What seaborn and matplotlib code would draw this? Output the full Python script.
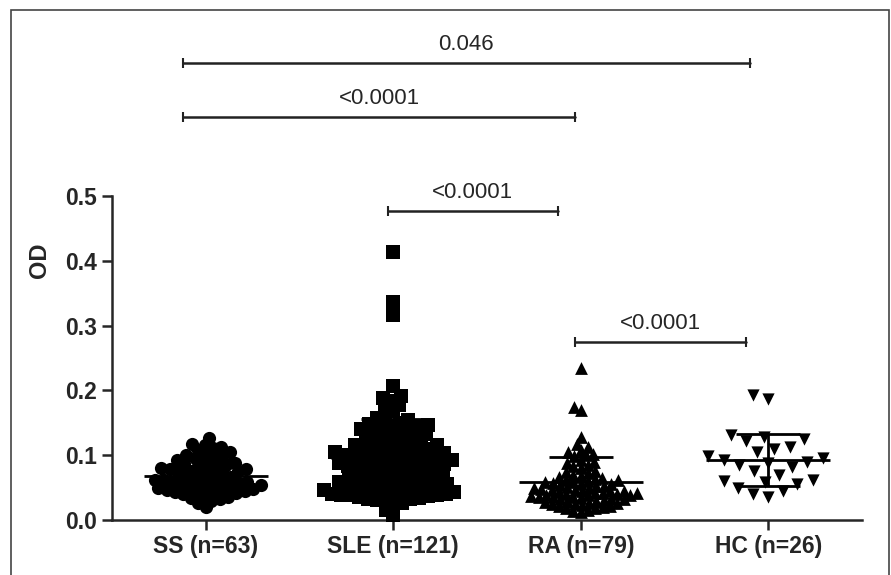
import numpy as np
import pandas as pd
import matplotlib
matplotlib.use("Agg")
import matplotlib.pyplot as plt
import seaborn as sns
from matplotlib.patches import Rectangle

# groups and OD values
groups = ["SS (n=63)", "SLE (n=121)", "RA (n=79)", "HC (n=26)"]
markers = ["o", "s", "^", "v"]

ss_od = [0.127, 0.118, 0.116, 0.113, 0.111, 0.108, 0.105, 0.103, 0.100, 0.098, 0.096, 0.095,
         0.092, 0.090, 0.088, 0.086, 0.085, 0.084, 0.082, 0.080, 0.079, 0.078, 0.077, 0.076,
         0.075, 0.074, 0.073, 0.072,
         0.068, 0.066, 0.065, 0.064, 0.063, 0.062, 0.061, 0.060, 0.059, 0.058, 0.057, 0.056,
         0.055, 0.054, 0.053, 0.052, 0.051, 0.050,
         0.049, 0.048, 0.047, 0.046, 0.045, 0.044, 0.043, 0.042, 0.041, 0.040, 0.038, 0.036,
         0.034, 0.032, 0.030, 0.027, 0.020]

sle_od = [0.413, 0.336, 0.316, 0.207, 0.191, 0.189, 0.183, 0.178, 0.172, 0.168,
          0.158, 0.155, 0.152, 0.150, 0.148, 0.146, 0.145, 0.143, 0.141, 0.140, 0.138, 0.136,
          0.135, 0.133, 0.132, 0.130, 0.128, 0.126,
          0.124, 0.122, 0.120, 0.119, 0.118, 0.116, 0.115, 0.114, 0.112, 0.111, 0.110, 0.109,
          0.108, 0.106, 0.105, 0.104, 0.103, 0.102, 0.101, 0.100, 0.099, 0.098,
          0.097, 0.096, 0.095, 0.094, 0.093, 0.092, 0.091, 0.090, 0.089, 0.088, 0.087, 0.086,
          0.085, 0.084, 0.083, 0.082, 0.081, 0.080, 0.079, 0.078, 0.077, 0.076, 0.074, 0.072,
          0.070,
          0.069, 0.068, 0.067, 0.066, 0.065, 0.064, 0.063, 0.062, 0.061, 0.060, 0.059, 0.058,
          0.057, 0.056, 0.055, 0.054, 0.053, 0.052, 0.051, 0.050, 0.049, 0.048,
          0.047, 0.046, 0.045, 0.044, 0.043, 0.042, 0.041, 0.040, 0.040, 0.039, 0.038, 0.038,
          0.037, 0.036, 0.035, 0.034, 0.033, 0.032, 0.031, 0.030,
          0.026, 0.022, 0.015, 0.008]

ra_od = [0.235, 0.174, 0.170, 0.128, 0.118, 0.112, 0.108, 0.105, 0.102, 0.100, 0.098,
         0.092, 0.090, 0.088, 0.085, 0.083, 0.080,
         0.076, 0.074, 0.072, 0.070, 0.068, 0.066, 0.065, 0.064, 0.062, 0.061, 0.060, 0.059,
         0.058, 0.057, 0.056, 0.055, 0.054, 0.053, 0.052, 0.051, 0.050, 0.049, 0.048, 0.047,
         0.046, 0.045, 0.045, 0.044, 0.043, 0.042, 0.042, 0.041, 0.040, 0.040, 0.039, 0.038,
         0.038, 0.037, 0.036, 0.035, 0.035, 0.034, 0.033, 0.032, 0.032, 0.031, 0.030, 0.029,
         0.028, 0.027, 0.026, 0.025, 0.024, 0.023, 0.022, 0.021, 0.020, 0.019, 0.018, 0.016,
         0.014, 0.012]

hc_od = [0.193, 0.186, 0.131, 0.128, 0.125, 0.122, 0.113, 0.110, 0.105, 0.098,
         0.095, 0.092, 0.090, 0.088, 0.085, 0.082, 0.075, 0.070, 0.062, 0.060,
         0.058, 0.055, 0.050, 0.045, 0.040, 0.035]

values = [ss_od, sle_od, ra_od, hc_od]

# comparison brackets: (start, end, height, p value)
br_start = [-0.12, -0.12, 0.97, 1.97]
br_end = [2.90, 1.97, 1.88, 2.88]
br_y = [0.705, 0.622, 0.477, 0.275]
br_label = ["0.046", "<0.0001", "<0.0001", "<0.0001"]

sns.set_style("ticks")
plt.rcParams["font.family"] = ["Liberation Sans", "DejaVu Sans"]

df = pd.concat([pd.DataFrame({"group": g, "OD": v}) for g, v in zip(groups, values)],
               ignore_index=True)

fig = plt.figure(figsize=(8.91, 5.75), dpi=100)
ax = fig.add_axes([112 / 891, 55 / 575, 750 / 891, 520 / 575])

swarm_size = [6.0, 6.2, 5.2, 11.0]
final_size = [9.5, 10.0, 9.2, 8.8]
added = []
for g, m, s in zip(groups, markers, swarm_size):
    n0 = len(ax.collections)
    sns.swarmplot(data=df[df.group == g], x="group", y="OD", order=groups, marker=m,
                  size=s, color="black", linewidth=0, ax=ax)
    added.append(ax.collections[n0:])

ax.set_xlim(-0.5, 3.5)
ax.set_ylim(0, 0.5 * 520 / 324)

# let seaborn place the swarm, then freeze the positions and set the final marker size
fig.canvas.draw()
for colls, fs in zip(added, final_size):
    for c in colls:
        if "draw" in vars(c):
            del c.draw
        c.set_sizes([fs ** 2])
        c.set_clip_on(False)

for i, v in enumerate(values):
    m, sd = np.mean(v), np.std(v, ddof=1)
    ax.hlines(m, i - 0.33, i + 0.33, color="black", lw=2, zorder=5)
    ax.vlines(i, m - sd, m + sd, color="black", lw=2, zorder=5)
    ax.hlines([m - sd, m + sd], i - 0.17, i + 0.17, color="black", lw=2, zorder=5)

for x1, x2, y, lab in zip(br_start, br_end, br_y, br_label):
    ax.plot([x1, x2], [y, y], color="#222222", lw=1.8, marker="|", markersize=7,
            mew=1.5, clip_on=False)
    ax.text((x1 + x2) / 2, y + 0.012, lab, ha="center", va="bottom", fontsize=16)

sns.despine(ax=ax)
ax.spines["left"].set_bounds(0, 0.5)
for sp in ["left", "bottom"]:
    ax.spines[sp].set_linewidth(1.8)
ax.set_yticks(np.arange(0, 0.51, 0.1))
ax.set_yticklabels([f"{t:.1f}" for t in np.arange(0, 0.51, 0.1)])
ax.tick_params(width=1.8, length=7, labelsize=16.5, pad=4)
for lab in ax.get_xticklabels() + ax.get_yticklabels():
    lab.set_fontweight("bold")
ax.set_xlabel("")
ax.set_ylabel("OD", fontsize=17, fontweight="bold", labelpad=10)

fig.add_artist(Rectangle((11 / 891, -0.05), 878 / 891, 1 - 10 / 575 + 0.05, fill=False,
                         edgecolor="#444444", lw=1.2, transform=fig.transFigure))

fig.savefig("out.png", dpi=100)
